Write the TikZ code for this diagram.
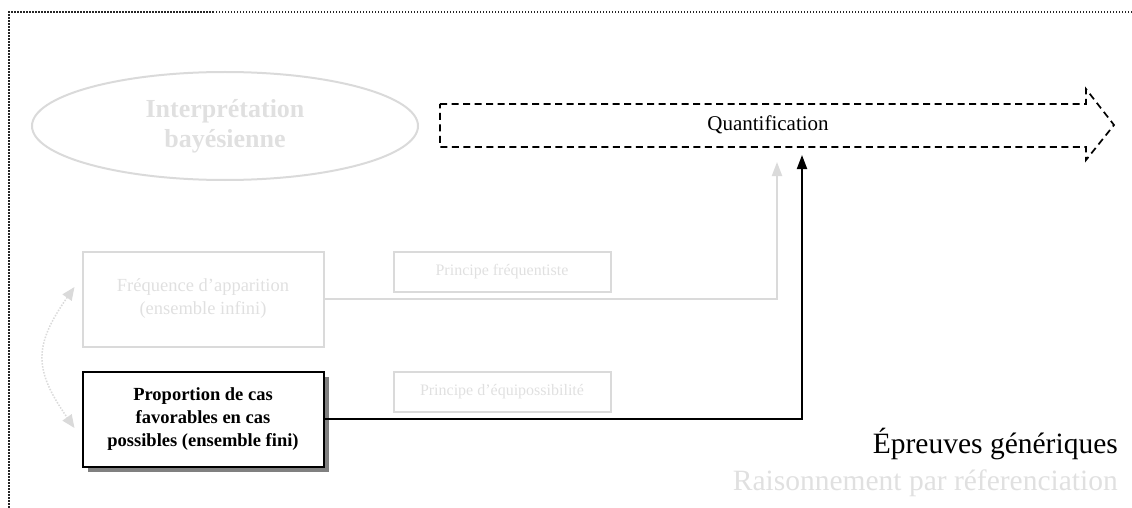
\documentclass[tikz,border=0pt]{standalone}
\usepackage{fontspec}
\setmainfont{Liberation Serif}
\usetikzlibrary{arrows.meta,shapes.geometric,shadows}
\definecolor{offline}{HTML}{DADADA}
\definecolor{offtext}{HTML}{E0E0E0}
\definecolor{shadowgrey}{HTML}{808080}
\tikzset{
        box_base/.style = {rectangle, align=center, inner sep=0pt,
            minimum width=241pt, minimum height=95pt},
        box_off/.style = {box_base, draw=offline, line width=2pt, text=offtext,
            font=\fontsize{18.5}{23}\selectfont},
        box_on/.style = {box_base, draw=black, line width=2pt, fill=white,
            font=\fontsize{18.5}{23}\selectfont\bfseries,
            drop shadow={shadow xshift=5pt, shadow yshift=-5pt,
                fill=shadowgrey, opacity=1}},
        prin_off/.style = {rectangle, draw=offline, line width=2pt, text=offtext,
            inner sep=0pt, minimum width=217pt, minimum height=40pt,
            font=\fontsize{16}{19}\selectfont},
        ell_off/.style = {ellipse, draw=offline, line width=2pt, text=offtext,
            align=center, inner sep=0pt, minimum width=386pt, minimum height=108pt,
            font=\fontsize{26}{30}\selectfont\bfseries},
        link_off/.style = {draw=offline, line width=2pt,
            -{Triangle[width=10pt,length=14pt]}},
        link_on/.style = {draw=black, line width=2pt,
            -{Triangle[width=10pt,length=14pt]}},
        swap_off/.style = {draw=offline, line width=1.5pt,
            dash pattern=on 1.5pt off 1.5pt,
            {Triangle[width=11pt,length=13pt]}-{Triangle[width=11pt,length=13pt]}},
        frame_dot/.style = {draw=black!85, line width=1.5pt,
            dash pattern=on 1.5pt off 1.5pt},
        caption/.style = {anchor=base east, inner sep=0pt,
            font=\fontsize{29.5}{36}\selectfont}
    }

\begin{document}
\begin{tikzpicture}[x=1pt,y=-1pt]
    \useasboundingbox (0,0) rectangle (1132,508);
    \draw[frame_dot] (1132,12) -| (9,508);

    % top row
    \node [ell_off] (bayes) at (225,126) {Interprétation\\bayésienne};
    \draw[line width=1.7pt, dash pattern=on 7pt off 4.5pt]
        (440,104) -- (1086,104) -- (1086,89) -- (1114,125)
        -- (1086,160) -- (1086,147) -- (440,147) -- cycle;
    \node [font=\fontsize{21}{25}\selectfont] (quant) at (768,125) {Quantification};
    \coordinate (tip_off) at (777,162);
    \coordinate (tip_on) at (802,155);

    % boxes
    \node [box_off] (freq) at (203,299) {Fréquence d’apparition\\(ensemble infini)};
    \node [prin_off] (prin_freq) at (502,272) {Principe fréquentiste};
    \node [box_on] (prop) at (203,419)
        {Proportion de cas\\favorables en cas\\possibles (ensemble fini)};
    \node [prin_off] (prin_equi) at (502,392) {Principe d’équipossibilité};

    % connectors
    \draw[link_off] (freq.east) -| (tip_off);
    \draw[link_on] (prop.east) -| (tip_on);
    \draw[swap_off] ([shift={(-7,-12)}]freq.west) to[out=235,in=125,looseness=1.3]
        ([shift={(-7,9)}]prop.west);

    % captions
    \node [caption] (epreuves) at (1118,453) {Épreuves génériques};
    \node [caption, text=offtext] (raison) at (1118,490)
        {Raisonnement par réferenciation};
\end{tikzpicture}
\end{document}
